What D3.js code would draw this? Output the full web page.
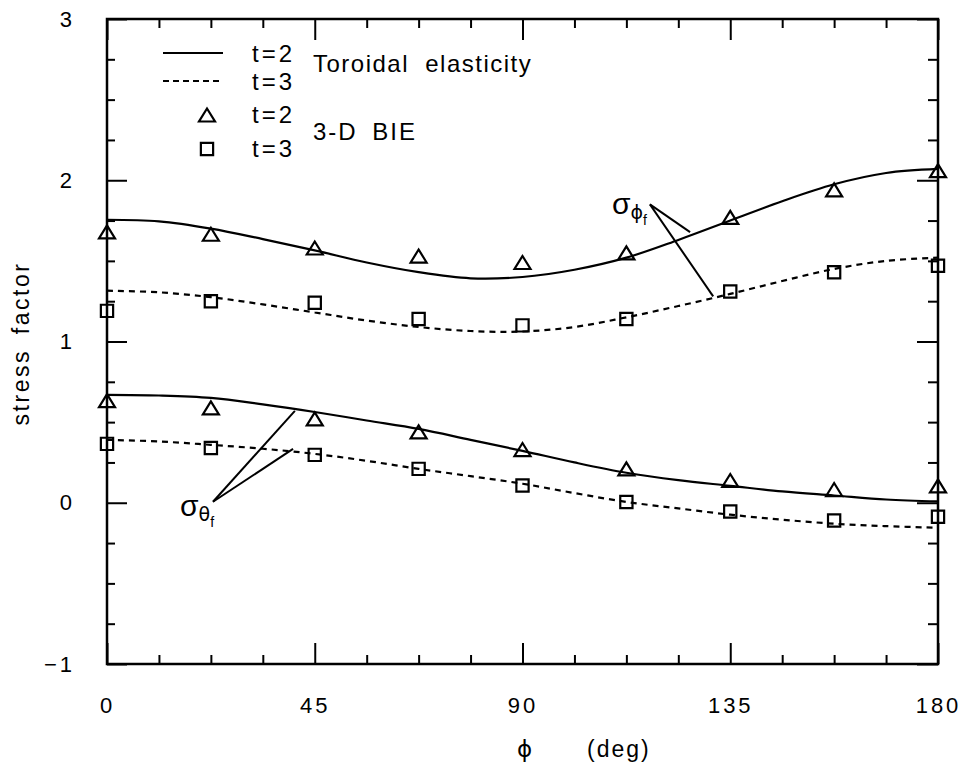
<!DOCTYPE html>
<html>
<head>
<meta charset="utf-8">
<script src="https://cdn.jsdelivr.net/npm/d3@7"></script>
<style>
  html, body { margin: 0; padding: 0; background: #fff; }
  svg { display: block; }
  text { font-family: "Liberation Sans", Arial, sans-serif; fill: #000; }
</style>
</head>
<body>
<svg id="chart" width="966" height="770"></svg>
<script>
// Angle around the torus (deg)
const phiBIE = [0, 22.5, 45, 67.5, 90, 112.5, 135, 157.5, 180];
// 3-D BIE results
const biePhiT2   = [1.68, 1.665, 1.58, 1.53, 1.49, 1.55, 1.77, 1.94, 2.06];
const biePhiT3   = [1.19, 1.25, 1.24, 1.14, 1.10, 1.14, 1.31, 1.43, 1.47];
const bieThetaT2 = [0.633, 0.588, 0.52, 0.44, 0.33, 0.21, 0.138, 0.082, 0.105];
const bieThetaT3 = [0.365, 0.34, 0.297, 0.21, 0.107, 0.005, -0.054, -0.11, -0.087];

// Toroidal elasticity solution
const phiTheory = [0, 11.25, 22.5, 33.75, 45, 56.25, 67.5, 78.75, 90,
                   101.25, 112.5, 123.75, 135, 146.25, 157.5, 168.75, 180];
const thPhiT2   = [1.755, 1.745, 1.70, 1.635, 1.565, 1.49, 1.43, 1.392, 1.40,
                   1.445, 1.52, 1.63, 1.75, 1.87, 1.975, 2.045, 2.07];
const thPhiT3   = [1.315, 1.305, 1.275, 1.23, 1.18, 1.13, 1.09, 1.065, 1.062,
                   1.09, 1.15, 1.22, 1.295, 1.375, 1.45, 1.50, 1.52];
const thThetaT2 = [0.669, 0.665, 0.65, 0.61, 0.563, 0.51, 0.458, 0.39, 0.322,
                   0.25, 0.186, 0.14, 0.105, 0.07, 0.045, 0.02, 0.008];
const thThetaT3 = [0.39, 0.38, 0.359, 0.335, 0.303, 0.26, 0.21, 0.165, 0.118,
                   0.06, 0.005, -0.035, -0.074, -0.105, -0.13, -0.145, -0.155];

// Axis ticks
const xMajorTicks = [0, 45, 90, 135, 180];
const yMajorTicks = [-1, 0, 1, 2, 3];

const svg = d3.select("#chart");
const x = d3.scaleLinear().domain([0, 180]).range([107, 938]);
const y = d3.scaleLinear().domain([-1, 3]).range([664, 19]);

const xMinorTicks = d3.range(0, 180.001, 11.25).filter(v => !xMajorTicks.includes(v));
const yMinorTicks = d3.range(-1, 3.001, 0.25).filter(v => !yMajorTicks.includes(v));

function styleAxis(g) {
  g.select(".domain").remove();
  g.selectAll(".tick line").attr("stroke", "#000").attr("stroke-width", 2);
  g.selectAll(".tick text").attr("font-size", 22).attr("letter-spacing", 3)
    .style("font-family", '"Liberation Sans", Arial, sans-serif').attr("fill", "#000");
}

// bottom axis
svg.append("g").attr("transform", `translate(0,${y(-1)})`)
  .call(d3.axisBottom(x).tickValues(xMajorTicks).tickSize(-21).tickPadding(33).tickFormat(d3.format("d")))
  .call(styleAxis);
svg.append("g").attr("transform", `translate(0,${y(-1)})`)
  .call(d3.axisBottom(x).tickValues(xMinorTicks).tickSize(-9).tickFormat(""))
  .call(styleAxis);
// top axis
svg.append("g").attr("transform", `translate(0,${y(3)})`)
  .call(d3.axisTop(x).tickValues(xMajorTicks).tickSize(-21).tickFormat(""))
  .call(styleAxis);
svg.append("g").attr("transform", `translate(0,${y(3)})`)
  .call(d3.axisTop(x).tickValues(xMinorTicks).tickSize(-9).tickFormat(""))
  .call(styleAxis);
// left axis
svg.append("g").attr("transform", `translate(${x(0)},0)`)
  .call(d3.axisLeft(y).tickValues(yMajorTicks).tickSize(-20).tickPadding(32)
    .tickFormat(d => d < 0 ? "\u2212" + Math.abs(d) : String(d)))
  .call(styleAxis);
svg.append("g").attr("transform", `translate(${x(0)},0)`)
  .call(d3.axisLeft(y).tickValues(yMinorTicks).tickSize(-8).tickFormat(""))
  .call(styleAxis);
// right axis
svg.append("g").attr("transform", `translate(${x(180)},0)`)
  .call(d3.axisRight(y).tickValues(yMajorTicks).tickSize(-21).tickFormat(""))
  .call(styleAxis);
svg.append("g").attr("transform", `translate(${x(180)},0)`)
  .call(d3.axisRight(y).tickValues(yMinorTicks).tickSize(-10).tickFormat(""))
  .call(styleAxis);

// frame
svg.append("rect")
  .attr("x", x(0)).attr("y", y(3))
  .attr("width", x(180) - x(0)).attr("height", y(-1) - y(3))
  .attr("fill", "none").attr("stroke", "#000").attr("stroke-width", 2.5);

// axis titles
svg.append("text")
  .attr("transform", `translate(29,${(y(3) + y(-1)) / 2 + 2}) rotate(-90)`)
  .attr("text-anchor", "middle").attr("font-size", 23).attr("letter-spacing", 2.5)
  .attr("word-spacing", 6)
  .text("stress factor");
const xTitle = svg.append("text").attr("y", 757).attr("font-size", 23).attr("letter-spacing", 2);
xTitle.append("tspan").attr("x", 517).style("font-family", '"DejaVu Sans", sans-serif').text("\u03D5");
xTitle.append("tspan").attr("x", 587).text("(deg)");

// theory curves
const line = d3.line().x(d => x(d[0])).y(d => y(d[1])).curve(d3.curveCatmullRom);
const curves = [
  { v: thPhiT2, dash: null },
  { v: thPhiT3, dash: "6,5" },
  { v: thThetaT2, dash: null },
  { v: thThetaT3, dash: "6,5" }
];
curves.forEach(c => {
  svg.append("path")
    .datum(phiTheory.map((p, i) => [p, c.v[i]]))
    .attr("d", line)
    .attr("fill", "none").attr("stroke", "#000").attr("stroke-width", 2.2)
    .attr("stroke-dasharray", c.dash);
});

// BIE markers: open triangle and open square
const openTriangle = {
  draw(ctx, size) {
    const w = 8, h = 6.5;
    ctx.moveTo(0, -h); ctx.lineTo(w, h); ctx.lineTo(-w, h); ctx.closePath();
  }
};
const triSym = d3.symbol().type(openTriangle);
const sqSym = d3.symbol().type(d3.symbolSquare).size(150);

function markers(values, sym) {
  svg.append("g").selectAll("path")
    .data(phiBIE.map((p, i) => [p, values[i]]))
    .join("path")
    .attr("transform", d => `translate(${x(d[0])},${y(d[1])})`)
    .attr("d", sym)
    .attr("fill", "none").attr("stroke", "#000").attr("stroke-width", 2.2);
}
markers(biePhiT2, triSym);
markers(biePhiT3, sqSym);
markers(bieThetaT2, triSym);
markers(bieThetaT3, sqSym);

// legend
const leg = svg.append("g");
leg.append("line").attr("x1", 163).attr("x2", 223).attr("y1", 53).attr("y2", 53)
  .attr("stroke", "#000").attr("stroke-width", 2.2);
leg.append("line").attr("x1", 163).attr("x2", 223).attr("y1", 81).attr("y2", 81)
  .attr("stroke", "#000").attr("stroke-width", 2).attr("stroke-dasharray", "6,4");
leg.append("path").attr("transform", "translate(207,115)").attr("d", triSym)
  .attr("fill", "none").attr("stroke", "#000").attr("stroke-width", 2.2);
leg.append("path").attr("transform", "translate(207,149)").attr("d", sqSym)
  .attr("fill", "none").attr("stroke", "#000").attr("stroke-width", 2.2);
const legRows = [["t=2", 62], ["t=3", 90], ["t=2", 123], ["t=3", 157]];
legRows.forEach(r => {
  leg.append("text").attr("x", 252).attr("y", r[1]).attr("font-size", 24)
    .attr("letter-spacing", 3).text(r[0]);
});
leg.append("text").attr("x", 313).attr("y", 72).attr("font-size", 24)
  .attr("letter-spacing", 1.5).attr("word-spacing", 8).text("Toroidal elasticity");
leg.append("text").attr("x", 313).attr("y", 140).attr("font-size", 24)
  .attr("letter-spacing", 2).attr("word-spacing", 6).text("3-D BIE");

// curve labels with leader lines
const notes = [
  { sub: "\u03D5", apex: [117.6, 1.85], tips: [[126.3, 1.678], [131.3, 1.28]], dx: -38, dy: 10 },
  { sub: "\u03B8", apex: [22.96, 0.006], tips: [[40.7, 0.57], [40.3, 0.334]], dx: -33, dy: 14 }
];
notes.forEach(n => {
  const ax = x(n.apex[0]), ay = y(n.apex[1]);
  n.tips.forEach(t => {
    svg.append("line").attr("x1", ax).attr("y1", ay).attr("x2", x(t[0])).attr("y2", y(t[1]))
      .attr("stroke", "#000").attr("stroke-width", 2);
  });
  const t = svg.append("text").attr("x", ax + n.dx).attr("y", ay + n.dy).attr("font-size", 30);
  t.append("tspan").text("\u03C3");
  t.append("tspan").attr("font-size", 19).attr("dy", 5)
    .style("font-family", '"DejaVu Sans", sans-serif').text(n.sub);
  t.append("tspan").attr("font-size", 14).attr("dy", 6).text("f");
});
</script>
</body>
</html>
